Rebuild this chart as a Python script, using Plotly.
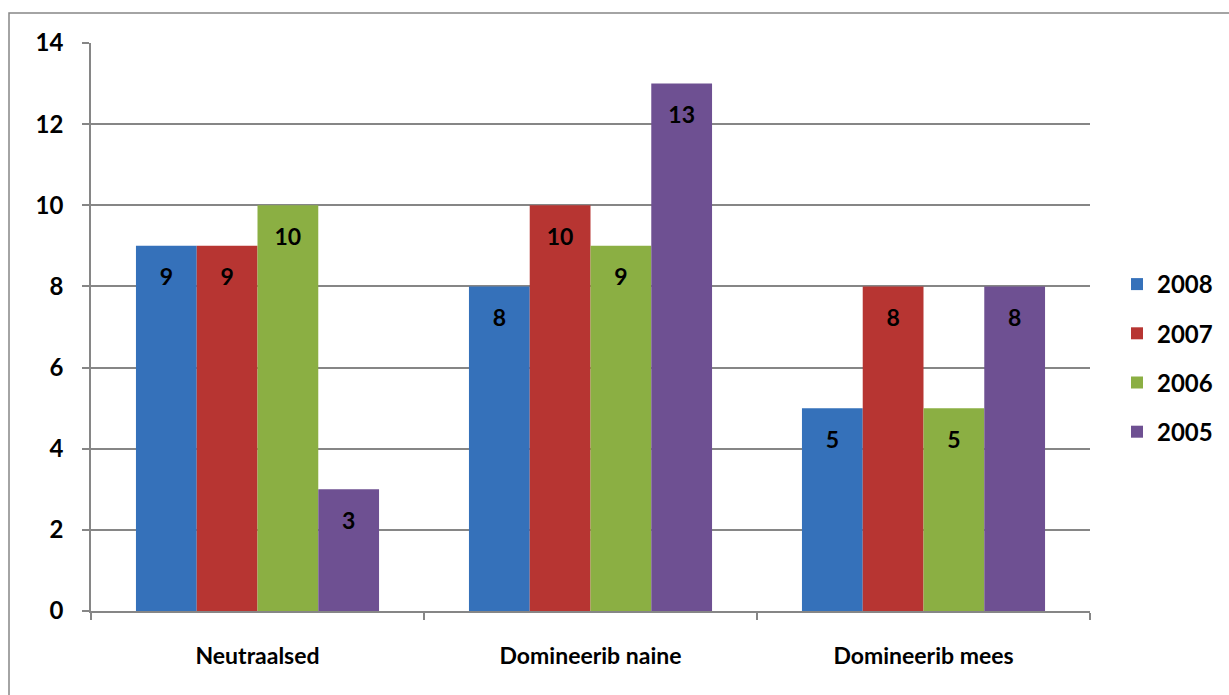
import plotly.graph_objects as go

categories = ["Neutraalsed", "Domineerib naine", "Domineerib mees"]
years = ["2008", "2007", "2006", "2005"]
v2008 = [9, 8, 5]
v2007 = [9, 10, 8]
v2006 = [10, 9, 5]
v2005 = [3, 13, 8]
y_ticks = [0, 2, 4, 6, 8, 10, 12, 14]

series = [v2008, v2007, v2006, v2005]
colors = ["#3571BA", "#B73532", "#8BAF43", "#6E5092"]

W, H = 1229, 695
ml, mr, mt, mb = 91, 139, 43, 84
pw, ph = W - ml - mr, H - mt - mb

FONT = "Lato"
fig = go.Figure()
for i, (name, vals) in enumerate(zip(years, series)):
    fig.add_trace(go.Bar(
        x=categories, y=vals, name=name, marker_color=colors[i],
        marker_line_width=0, offsetgroup=str(i), legendgroup=name,
    ))
for i, (name, vals) in enumerate(zip(years, series)):
    fig.add_trace(go.Scatter(
        x=categories, y=vals, mode="markers+text", text=[str(v) for v in vals],
        textposition="bottom center", marker=dict(size=34, opacity=0),
        textfont=dict(family=FONT, size=23, color="black", weight="bold"),
        offsetgroup=str(i), showlegend=False, hoverinfo="skip",
    ))

def px2paper_x(px):
    return (px - ml) / pw

def px2paper_y(py):
    return (H - mb - py) / ph

fig.update_layout(
    width=W, height=H,
    margin=dict(l=ml, r=mr, t=mt, b=mb, autoexpand=False),
    paper_bgcolor="white", plot_bgcolor="white",
    barmode="group", bargap=0.27, bargroupgap=0,
    scattermode="group", scattergap=0.27,
    font=dict(family=FONT, size=22, color="black"),
    legend=dict(
        x=px2paper_x(1117), xanchor="left", y=px2paper_y(358), yanchor="middle",
        font=dict(family=FONT, size=24, color="black", weight="bold"),
        traceorder="grouped", tracegroupgap=15, bgcolor="rgba(0,0,0,0)",
    ),
    xaxis=dict(
        showline=True, linecolor="#868686", linewidth=1.5,
        ticks="outside", tickson="boundaries", ticklen=7, tickcolor="#868686",
        tickwidth=1.5, showgrid=False,
        tickfont=dict(family=FONT, size=23, color="black", weight="bold"),
        ticklabelstandoff=24,
    ),
    yaxis=dict(
        range=[0, 14], tickvals=y_ticks, showline=True, linecolor="#868686",
        linewidth=1.5, ticks="outside", ticklen=7, tickcolor="#868686", tickwidth=1.5,
        showgrid=True, gridcolor="#868686", gridwidth=1.5, zeroline=False,
        tickfont=dict(family=FONT, size=24, color="black", weight="bold"),
        ticklabelstandoff=14,
    ),
    shapes=[dict(
        type="rect", xref="paper", yref="paper",
        x0=px2paper_x(9), x1=px2paper_x(1240), y0=px2paper_y(710), y1=px2paper_y(13),
        line=dict(color="#868686", width=1.5), fillcolor="rgba(0,0,0,0)", layer="below",
    )],
)

fig.write_html(
    "out.html",
    config={"displayModeBar": False},
    post_script="document.body.style.margin='0';document.body.style.overflow='hidden';",
)
